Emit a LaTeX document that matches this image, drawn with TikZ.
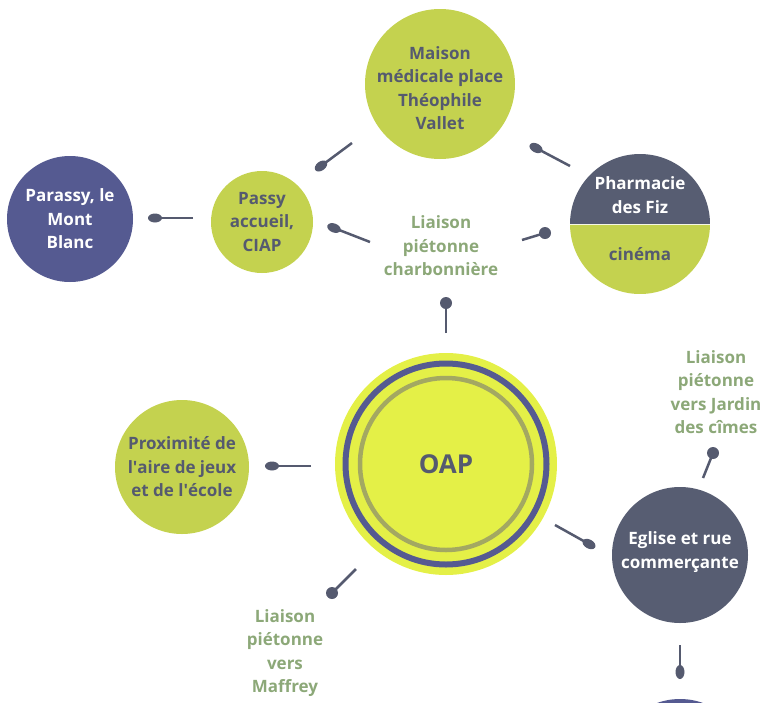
\documentclass[tikz,border=0pt]{standalone}
\usepackage{fontspec}
\setmainfont{Open Sans}
\usetikzlibrary{shapes.geometric, calc}

\definecolor{bubgreen}{HTML}{C4D24F}
\definecolor{oapyellow}{HTML}{E4F047}
\definecolor{mauve}{HTML}{555A91}
\definecolor{slate}{HTML}{575D72}
\definecolor{inkgrey}{HTML}{555A6F}
\definecolor{sage}{HTML}{8CA878}
\definecolor{ringgrey}{HTML}{A3A862}

\begin{document}
\begin{tikzpicture}[x=1pt, y=-1pt,
  bubble/.style={circle, inner sep=0pt, align=center,
    font=\bfseries\fontsize{17}{23.5}\selectfont},
  greenbub/.style={bubble, fill=bubgreen, text=inkgrey},
  mauvebub/.style={bubble, fill=mauve, text=white},
  slatebub/.style={bubble, fill=slate, text=white},
  liaison/.style={align=center, text=sage, inner sep=0pt,
    font=\bfseries\fontsize{17}{23.5}\selectfont},
  link/.style={draw=inkgrey, line width=2.5pt},
  spoon/.style={pos=1, sloped, ellipse, fill=inkgrey, inner sep=0pt,
    minimum width=14pt, minimum height=9pt},
  knob/.style={pos=1, circle, fill=inkgrey, inner sep=0pt, minimum size=12pt},
]
  \useasboundingbox (0,0) rectangle (766,702);

  % top cluster
  \node[greenbub, minimum size=150pt] (maison) at (440,84) {};
  \node[bubble, text=inkgrey] (maisontext) at (440,88)
    {Maison\\médicale place\\Théophile\\Vallet};
  \node[mauvebub, minimum size=126pt] (parassy) at (70,219)
    {Parassy, le\\Mont\\Blanc};
  \node[greenbub, minimum size=102pt] (passy) at (262,222)
    {Passy\\accueil,\\CIAP};
  \node[liaison] (charbon) at (441,246) {Liaison\\piétonne\\charbonnière};

  % split bubble
  \node[bubble, minimum size=140pt] (pharm) at (640,224) {};
  \begin{scope}
    \clip (pharm) circle[radius=70];
    \fill[slate] ($(pharm)+(-70,-70)$) rectangle ($(pharm)+(70,0)$);
    \fill[bubgreen] ($(pharm)+(-70,0)$) rectangle ($(pharm)+(70,70)$);
  \end{scope}
  \draw[white!85!bubgreen, line width=1pt] (pharm.west) -- (pharm.east);
  \node[bubble, text=white] (pharmtop) at (640,195) {Pharmacie\\des Fiz};
  \node[bubble, text=inkgrey] (cinema) at (640,254) {cinéma};

  % centre
  \node[bubble, fill=oapyellow, minimum size=222pt, text=inkgrey,
    font=\bfseries\fontsize{26}{30}\selectfont] (oap) at (446,464) {OAP};
  \draw[mauve, line width=6pt] (oap) circle[radius=100.5];
  \draw[ringgrey, line width=4.5pt] (oap) circle[radius=86];

  \node[greenbub, minimum size=134pt] (prox) at (182,467)
    {Proximité de\\l\textquotesingle aire de jeux\\et de l\textquotesingle école};
  \node[slatebub, minimum size=136pt] (eglise) at (680,555) {};
  \node[bubble, text=white] (egltext) at (680,552) {Eglise et rue\\commerçante};
  \node[mauvebub, minimum size=136pt] (nextbub) at (680,767) {};
  \node[liaison] (jardin) at (716,392) {Liaison\\piétonne\\vers Jardin\\des cîmes};
  \node[liaison] (maffrey) at (285,653) {Liaison\\piétonne\\vers\\Maffrey};

  % pins
  \coordinate (mp1) at (352,143);  \coordinate (mp2) at (321,166);
  \coordinate (pm1) at (570,166);  \coordinate (pm2) at (536,148);
  \coordinate (pp1) at (193,218);  \coordinate (pp2) at (155,218);
  \coordinate (cp1) at (370,242);  \coordinate (cp2) at (334,228);
  \coordinate (ch1) at (522,240);  \coordinate (ch2) at (545,233);
  \coordinate (oc1) at (446,333);  \coordinate (oc2) at (446,303);
  \coordinate (op1) at (311,466);  \coordinate (op2) at (272,466);
  \coordinate (om1) at (356,569);  \coordinate (om2) at (332,593);
  \coordinate (oe1) at (555,525);  \coordinate (oe2) at (589,544);
  \coordinate (ej1) at (703,478);  \coordinate (ej2) at (713,453);
  \coordinate (en1) at (680,645);  \coordinate (en2) at (680,672);

  \draw[link] (mp1) -- (mp2) node[spoon] {};
  \draw[link] (pm1) -- (pm2) node[spoon] {};
  \draw[link] (pp1) -- (pp2) node[spoon] {};
  \draw[link] (cp1) -- (cp2) node[spoon] {};
  \draw[link] (ch1) -- (ch2) node[knob] {};
  \draw[link] (oc1) -- (oc2) node[knob] {};
  \draw[link] (op1) -- (op2) node[spoon] {};
  \draw[link] (om1) -- (om2) node[knob] {};
  \draw[link] (oe1) -- (oe2) node[spoon] {};
  \draw[link] (ej1) -- (ej2) node[knob] {};
  \draw[link] (en1) -- (en2) node[spoon] {};
\end{tikzpicture}
\end{document}
